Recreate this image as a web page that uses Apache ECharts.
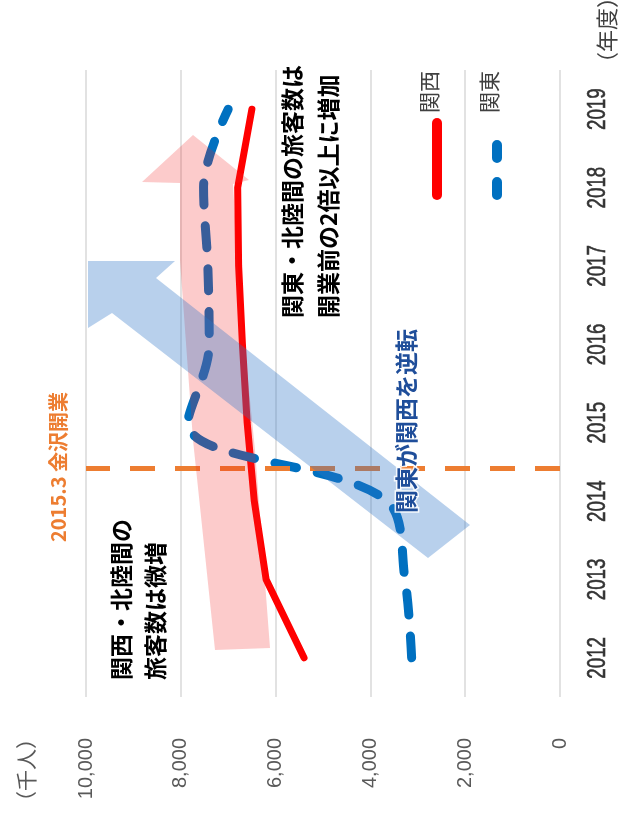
<!DOCTYPE html>
<html>
<head>
<meta charset="utf-8">
<script src="https://cdn.jsdelivr.net/npm/echarts@6/dist/echarts.min.js"></script>
<style>
html,body{margin:0;padding:0;background:#fff;}
#chart{width:624px;height:819px;}
</style>
</head>
<body>
<div id="chart"></div>
<script>
// ---- data ----
const years = ['2012', '2013', '2014', '2015', '2016', '2017', '2018', '2019'];
const seriesNames = ['関西', '関東'];
const kansai = [5400, 6200, 6450, 6600, 6700, 6780, 6800, 6500];
const kanto = [3130, 3270, 3650, 7850, 7400, 7430, 7520, 7000];
const valueMin = 0;
const valueMax = 10000;
const valueStep = 2000;
const openingPos = 2.42;            // position on the year scale (index units)
const openingLabel = '2015.3 金沢開業';
const valueUnit = '（千人）';
const yearUnit = '（年度）';
const note1 = '関東・北陸間の旅客数は\n開業前の2倍以上に増加';
const note2 = '関西・北陸間の\n旅客数は微増';
const note3 = '関東が関西を逆転';

const chart = echarts.init(document.getElementById('chart'), null, {renderer: 'canvas'});
const R = Math.PI / 2;
const jp = '"Noto Sans CJK JP", "Noto Sans", sans-serif';

const baseGraphic = [
  // pink arrow
  {
    type: 'polygon', z: 5, silent: true,
    shape: {points: [[215, 650], [270, 648], [255, 450], [240, 300], [233, 184], [249, 180],
                     [193, 135], [142, 182], [180, 183], [180, 260], [193, 440]]},
    style: {fill: 'rgba(240,30,30,0.23)'}
  },
  // blue arrow
  {
    type: 'polygon', z: 6, silent: true,
    shape: {points: [[88, 261], [175, 261], [156, 278], [470, 525], [428, 558], [112, 313], [88, 328]]},
    style: {fill: 'rgba(46,117,200,0.34)'}
  },
  // annotations
  {
    type: 'text', z: 20, x: 310, y: 318, rotation: R, silent: true,
    style: {text: note1, fill: '#000', font: 'bold 23px ' + jp, align: 'left', verticalAlign: 'middle', lineHeight: 36}
  },
  {
    type: 'text', z: 20, x: 138, y: 680, rotation: R, silent: true,
    style: {text: note2, fill: '#000', font: 'bold 23px ' + jp, align: 'left', verticalAlign: 'middle', lineHeight: 34}
  },
  {
    type: 'text', z: 20, x: 406, y: 513, rotation: R, silent: true,
    style: {text: note3, fill: '#1F4E9A', font: 'bold 23px ' + jp, align: 'left', verticalAlign: 'middle',
            stroke: 'rgba(255,255,255,0.85)', lineWidth: 3}
  },
  {
    type: 'text', z: 20, x: 58, y: 467, rotation: R, silent: true,
    style: {text: openingLabel, fill: '#ED7D31', font: 'bold 20px ' + jp, align: 'center', verticalAlign: 'middle'}
  },
  // unit labels
  {
    type: 'text', z: 20, x: 26, y: 812, rotation: R, silent: true,
    style: {text: valueUnit, fill: '#595959', font: '21px ' + jp, align: 'left', verticalAlign: 'middle'}
  },
  {
    type: 'text', z: 20, x: 607, y: 74, rotation: R, silent: true,
    style: {text: yearUnit, fill: '#404040', font: '22px ' + jp, align: 'left', verticalAlign: 'middle'}
  },
  // legend
  {
    type: 'text', z: 20, x: 429, y: 113, rotation: R, silent: true,
    style: {text: seriesNames[0], fill: '#404040', font: '21px ' + jp, align: 'left', verticalAlign: 'middle'}
  },
  {
    type: 'line', z: 20, silent: true,
    shape: {x1: 437, y1: 195, x2: 437, y2: 123},
    style: {stroke: '#FF0000', lineWidth: 10, lineCap: 'round'}
  },
  {
    type: 'text', z: 20, x: 489, y: 113, rotation: R, silent: true,
    style: {text: seriesNames[1], fill: '#404040', font: '21px ' + jp, align: 'left', verticalAlign: 'middle'}
  },
  {
    type: 'line', z: 20, silent: true,
    shape: {x1: 497, y1: 195, x2: 497, y2: 122},
    style: {stroke: '#0070C0', lineWidth: 10, lineCap: 'round', lineDash: [13, 24]}
  }
];

const option = {
  animation: false,
  backgroundColor: '#ffffff',
  grid: {left: 86, right: 64, top: 70, bottom: 122, containLabel: false},
  xAxis: {
    type: 'value', min: valueMin, max: valueMax, interval: valueStep, inverse: true,
    position: 'bottom',
    axisLine: {show: false}, axisTick: {show: false},
    splitLine: {show: true, lineStyle: {color: '#D9D9D9', width: 1.5}},
    axisLabel: {
      rotate: 90, margin: 41, fontSize: 20, color: '#595959',
      fontFamily: '"Liberation Sans", Arial, sans-serif',
      showMinLabel: true, showMaxLabel: true,
      formatter: v => v.toLocaleString('en-US')
    }
  },
  yAxis: [
    {
      type: 'category', data: years, position: 'right', boundaryGap: true,
      axisLine: {show: false}, axisTick: {show: false}, splitLine: {show: false},
      axisLabel: {show: false}
    },
    {type: 'value', min: -0.5, max: 7.5, show: false}
  ],
  series: [
    {
      name: seriesNames[0], type: 'line', data: kansai, yAxisIndex: 0,
      symbol: 'none', z: 3,
      lineStyle: {color: '#FF0000', width: 7, cap: 'round', join: 'round'}
    },
    {
      name: seriesNames[1], type: 'line', data: kanto, yAxisIndex: 0,
      symbol: 'none', smooth: 0.35, z: 4,
      lineStyle: {color: '#0070C0', width: 9, type: [22, 21], cap: 'round', join: 'round'}
    },
    {
      name: 'opening', type: 'line', data: [], yAxisIndex: 1, z: 8,
      markLine: {
        silent: true, symbol: ['none', 'none'], label: {show: false},
        lineStyle: {color: '#ED7D31', width: 5, type: [25, 20]},
        data: [{yAxis: openingPos}]
      }
    }
  ],
  graphic: baseGraphic
};
chart.setOption(option);

// year tick labels: condensed text placed on the category axis positions
const axisX = chart.convertToPixel({xAxisIndex: 0}, valueMin);
const yearLabels = years.map(y => ({
  type: 'text', z: 20, silent: true,
  x: axisX + 38, y: chart.convertToPixel({yAxisIndex: 0}, y),
  rotation: R, scaleX: 0.72, scaleY: 1,
  style: {text: y, fill: '#333333', font: '500 26px "Liberation Sans", Arial, sans-serif',
          align: 'center', verticalAlign: 'middle', stroke: '#333333', lineWidth: 0.6}
}));
chart.setOption({graphic: baseGraphic.concat(yearLabels)}, {replaceMerge: ['graphic']});
</script>
</body>
</html>
